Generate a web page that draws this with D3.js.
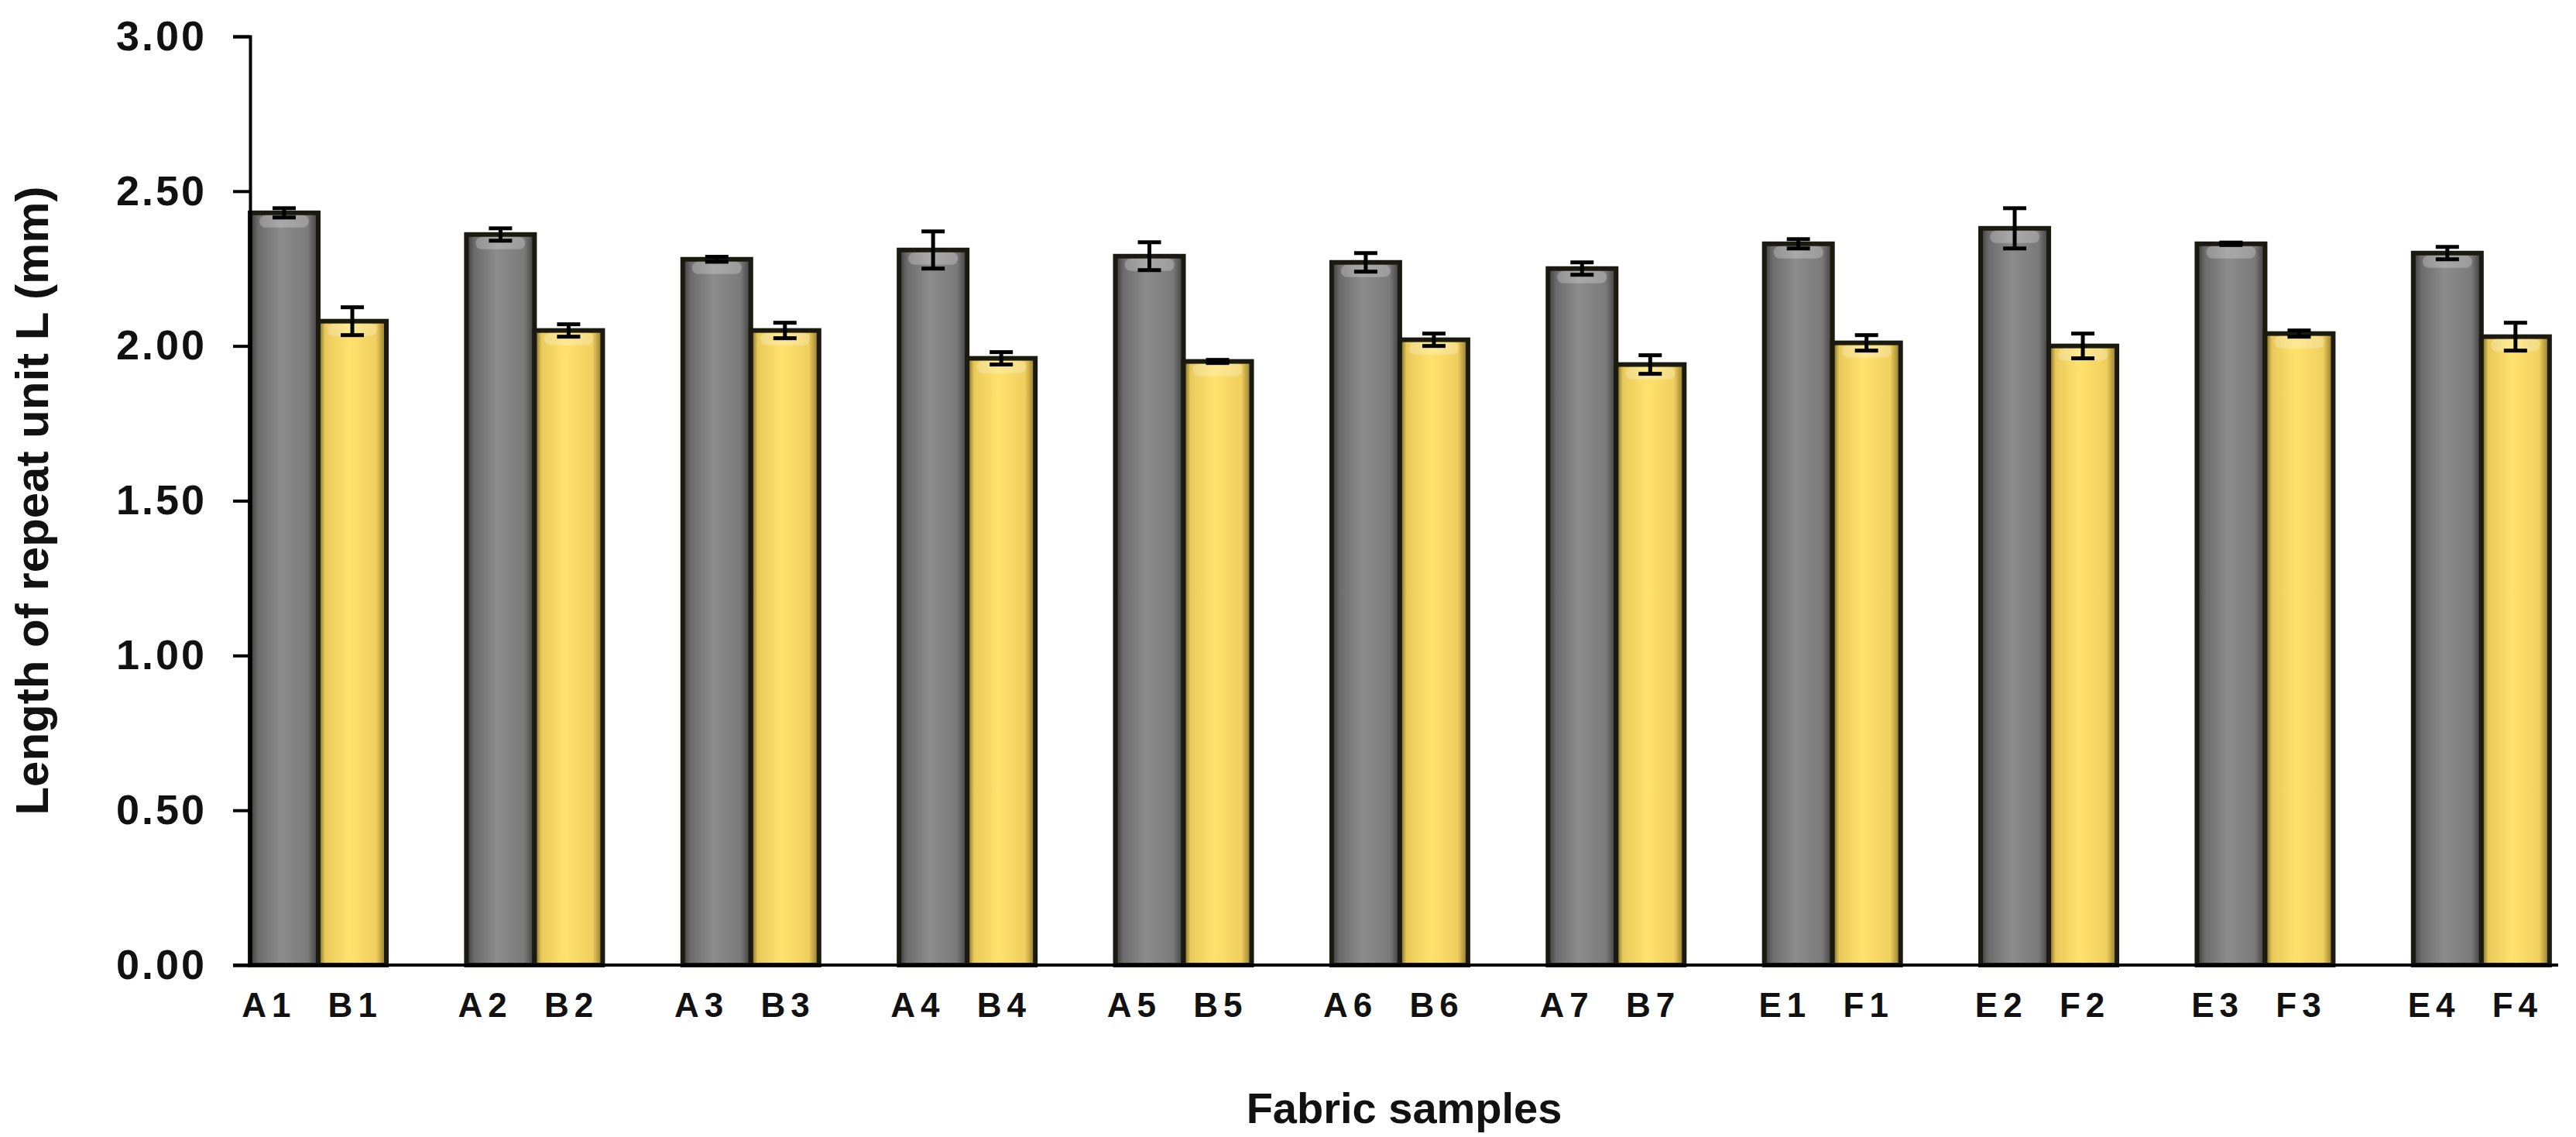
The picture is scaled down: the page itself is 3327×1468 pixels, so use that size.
<!DOCTYPE html>
<html>
<head>
<meta charset="utf-8">
<script src="https://cdn.jsdelivr.net/npm/d3@7"></script>
<style>
  body { margin: 0; background: #fff; }
  text { font-family: "Liberation Sans", Arial, sans-serif; }
</style>
</head>
<body>
<svg id="chart" width="3327" height="1468"></svg>
<script>
// data
var groups = ["A1 B1", "A2 B2", "A3 B3", "A4 B4", "A5 B5", "A6 B6", "A7 B7", "E1 F1", "E2 F2", "E3 F3", "E4 F4"];
var grayVals = [2.43, 2.36, 2.28, 2.31, 2.29, 2.27, 2.25, 2.33, 2.38, 2.33, 2.30];
var grayErr = [0.015, 0.02, 0.008, 0.06, 0.045, 0.03, 0.02, 0.015, 0.065, 0.004, 0.02];
var yellowVals = [2.08, 2.05, 2.05, 1.96, 1.95, 2.02, 1.94, 2.01, 2.00, 2.04, 2.03];
var yellowErr = [0.045, 0.02, 0.025, 0.02, 0.005, 0.02, 0.03, 0.025, 0.04, 0.01, 0.045];
var yTicks = [0, 0.5, 1, 1.5, 2, 2.5, 3];

var svg = d3.select("#chart");
var margin = { left: 323, right: 23, top: 47, bottom: 222 };
var W = 3327, H = 1468;

var x = d3.scaleBand().domain(groups).range([margin.left, W - margin.right]).paddingInner(0.37).paddingOuter(0.02).align(0);
var sub = d3.scaleBand().domain([0, 1]).range([0, x.bandwidth()]);
var y = d3.scaleLinear().domain([0, 3]).range([H - margin.bottom, margin.top]);

// gradients for the shaded bars
var defs = svg.append("defs");
function grad(id, stops) {
  var g = defs.append("linearGradient").attr("id", id).attr("x1", 0).attr("x2", 1).attr("y1", 0).attr("y2", 0);
  stops.forEach(function (s) { g.append("stop").attr("offset", s[0]).attr("stop-color", s[1]); });
}
grad("gGray", [[0, "#3a3a3a"], [0.12, "#6c6c6c"], [0.45, "#8c8c8c"], [0.85, "#7a7a7a"], [1, "#3c3c3c"]]);
grad("gYellow", [[0, "#6b5a20"], [0.1, "#e8c95a"], [0.45, "#ffe26e"], [0.85, "#f0cf5e"], [1, "#8a7228"]]);

var rows = groups.map(function (g, i) {
  return [
    { g: g, k: 0, v: grayVals[i], e: grayErr[i], fill: "url(#gGray)" },
    { g: g, k: 1, v: yellowVals[i], e: yellowErr[i], fill: "url(#gYellow)" }
  ];
});
var bars = d3.merge(rows);

svg.selectAll("rect.bar").data(bars).enter().append("rect")
  .attr("class", "bar")
  .attr("x", function (d) { return x(d.g) + sub(d.k); })
  .attr("width", sub.bandwidth())
  .attr("y", function (d) { return y(d.v); })
  .attr("height", function (d) { return y(0) - y(d.v); })
  .attr("fill", function (d) { return d.fill; })
  .attr("stroke", "#1a1a10").attr("stroke-width", 6);

// top highlight
svg.selectAll("rect.hl").data(bars).enter().append("rect")
  .attr("x", function (d) { return x(d.g) + sub(d.k) + 12; })
  .attr("width", sub.bandwidth() - 24)
  .attr("y", function (d) { return y(d.v) + 3; })
  .attr("height", 16)
  .attr("rx", 8)
  .attr("fill", "#fff").attr("opacity", 0.25);

// error bars
var eb = svg.selectAll("g.err").data(bars).enter().append("g").attr("class", "err")
  .attr("stroke", "#000").attr("stroke-width", 5);
eb.append("line")
  .attr("x1", function (d) { return x(d.g) + sub(d.k) + sub.bandwidth() / 2; })
  .attr("x2", function (d) { return x(d.g) + sub(d.k) + sub.bandwidth() / 2; })
  .attr("y1", function (d) { return y(d.v + d.e); })
  .attr("y2", function (d) { return y(d.v - d.e); });
[1, -1].forEach(function (s) {
  eb.append("line")
    .attr("x1", function (d) { return x(d.g) + sub(d.k) + sub.bandwidth() / 2 - 15; })
    .attr("x2", function (d) { return x(d.g) + sub(d.k) + sub.bandwidth() / 2 + 15; })
    .attr("y1", function (d) { return y(d.v + s * d.e); })
    .attr("y2", function (d) { return y(d.v + s * d.e); });
});

// axes
var yAxis = svg.append("g").attr("transform", "translate(" + margin.left + ",0)")
  .call(d3.axisLeft(y).tickValues(yTicks).tickFormat(d3.format(".2f")).tickSize(22).tickPadding(34));
yAxis.select(".domain").attr("stroke-width", 4);
yAxis.selectAll(".tick line").attr("stroke-width", 4);
yAxis.selectAll("text").attr("font-size", 54).attr("font-weight", "bold").attr("fill", "#111")
  .attr("letter-spacing", 3);

var xAxis = svg.append("g").attr("transform", "translate(0," + y(0) + ")")
  .call(d3.axisBottom(x).tickSize(0).tickPadding(36));
xAxis.select(".domain").attr("d", "M" + (margin.left - 22) + ",0H" + (W - margin.right)).attr("stroke-width", 4);
xAxis.selectAll("text").attr("font-size", 44).attr("font-weight", "bold").attr("fill", "#111")
  .attr("letter-spacing", 7).style("word-spacing", "22px")
  .attr("dx", -8);

// titles
svg.append("text").attr("transform", "translate(62," + ((margin.top + y(0)) / 2) + ") rotate(-90)")
  .attr("text-anchor", "middle").attr("font-size", 60).attr("fill", "#111")
  .style("font-weight", 600).text("Length of repeat unit L (mm)");
svg.append("text").attr("x", (margin.left + W - margin.right) / 2).attr("y", 1450)
  .attr("text-anchor", "middle").attr("font-size", 56).attr("font-weight", "bold").attr("fill", "#111")
  .text("Fabric samples");
</script>
</body>
</html>
